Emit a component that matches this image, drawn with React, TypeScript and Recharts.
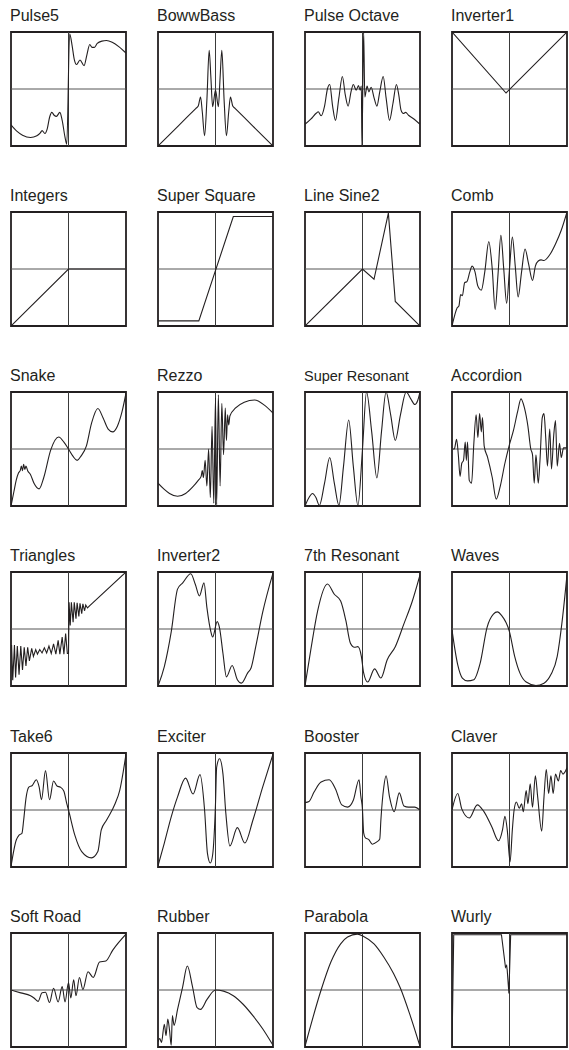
import { LineChart, Line, XAxis, YAxis, ReferenceLine, ReferenceArea } from "recharts";

type Pt = [number, number];

// transfer curves, x and y both in -1..1
const pulse5: Pt[] = [
  [-1, -0.63], [-0.9, -0.74], [-0.8, -0.81], [-0.66, -0.85], [-0.55, -0.82], [-0.49, -0.77],
  [-0.46, -0.73], [-0.41, -0.78], [-0.37, -0.7], [-0.33, -0.5], [-0.29, -0.41], [-0.25, -0.46],
  [-0.21, -0.48], [-0.15, -0.41], [-0.11, -0.55], [-0.06, -0.85], [-0.03, -0.97], [0.02, 0.97],
  [0.06, 0.78], [0.1, 0.52], [0.14, 0.43], [0.2, 0.51], [0.27, 0.41], [0.32, 0.6], [0.37, 0.78],
  [0.41, 0.73], [0.45, 0.73], [0.5, 0.8], [0.58, 0.84], [0.66, 0.85], [0.76, 0.82], [0.88, 0.74], [1, 0.63],
];
const bowwBass: Pt[] = [
  [-1, -1], [-0.65, -0.65], [-0.34, -0.34], [-0.3, -0.3], [-0.26, -0.14], [-0.23, -0.4], [-0.19, -0.82],
  [-0.15, -0.2], [-0.11, 0.68], [-0.08, 0.2], [-0.05, -0.31], [0, -0.02], [0.05, -0.31], [0.08, 0.2],
  [0.11, 0.68], [0.15, -0.2], [0.19, -0.82], [0.23, -0.4], [0.26, -0.14], [0.3, -0.3], [0.34, -0.34],
  [0.65, -0.65], [1, -1],
];
const pulseOctave: Pt[] = [
  [-1, -0.62], [-0.9, -0.53], [-0.8, -0.42], [-0.77, -0.4], [-0.72, -0.47], [-0.66, -0.3], [-0.61, 0],
  [-0.57, 0.08], [-0.52, -0.3], [-0.47, -0.55], [-0.41, -0.15], [-0.35, 0.22], [-0.3, -0.1], [-0.25, -0.3],
  [-0.2, -0.05], [-0.16, 0.08], [-0.11, -0.02], [-0.07, 0.06], [-0.04, -0.02], [-0.02, 0.05], [-0.01, -1],
  [0.02, 1], [0.04, -0.14], [0.08, 0.05], [0.11, -0.05], [0.15, 0.03], [0.2, -0.15], [0.25, -0.3],
  [0.3, -0.05], [0.36, 0.22], [0.41, -0.15], [0.47, -0.55], [0.53, -0.25], [0.59, 0.08], [0.63, -0.1],
  [0.67, -0.37], [0.71, -0.43], [0.75, -0.41], [0.8, -0.46], [0.9, -0.53], [1, -0.62],
];
const inverter1: Pt[] = [[-1, 1], [-0.06, -0.07], [-0.02, -0.03], [1, 1]];

const integers: Pt[] = [[-1, -1], [0, 0], [1, 0]];
const superSquare: Pt[] = [[-1, -0.91], [-0.29, -0.91], [0.31, 0.92], [1, 0.92]];
const lineSine2: Pt[] = [[-1, -1], [0, 0], [0.2, -0.18], [0.45, 0.98], [0.57, -0.57], [1, -1]];
const comb: Pt[] = [
  [-1, -1], [-0.95, -0.8], [-0.91, -0.68], [-0.88, -0.65], [-0.85, -0.45], [-0.82, -0.47], [-0.78, -0.24],
  [-0.74, -0.22], [-0.69, -0.05], [-0.65, 0.05], [-0.6, -0.05], [-0.55, -0.3], [-0.49, -0.37], [-0.43, -0.05],
  [-0.36, 0.48], [-0.3, 0], [-0.25, -0.71], [-0.2, -0.1], [-0.15, 0.59], [-0.1, 0], [-0.05, -0.6], [0, 0],
  [0.05, 0.56], [0.1, 0.05], [0.15, -0.49], [0.21, -0.05], [0.27, 0.35], [0.33, 0.1], [0.4, -0.2],
  [0.45, 0.05], [0.5, 0.14], [0.55, 0.16], [0.6, 0.15], [0.7, 0.25], [0.8, 0.44], [0.9, 0.68], [1, 1],
];

const snake: Pt[] = [
  [-1, -1], [-0.95, -0.75], [-0.91, -0.55], [-0.87, -0.42], [-0.84, -0.38], [-0.82, -0.3], [-0.8, -0.38],
  [-0.78, -0.27], [-0.76, -0.36], [-0.74, -0.3], [-0.71, -0.38], [-0.66, -0.45], [-0.6, -0.6], [-0.51, -0.7],
  [-0.43, -0.5], [-0.31, -0.02], [-0.17, 0.21], [-0.08, 0.12], [0, 0], [0.08, -0.13], [0.15, -0.2],
  [0.22, -0.12], [0.31, 0.05], [0.4, 0.45], [0.51, 0.71], [0.6, 0.55], [0.69, 0.35], [0.77, 0.3],
  [0.85, 0.4], [0.93, 0.65], [1, 0.98],
];
const rezzo: Pt[] = [
  [-1, -0.6], [-0.9, -0.7], [-0.8, -0.78], [-0.66, -0.83], [-0.52, -0.78], [-0.4, -0.67], [-0.3, -0.55],
  [-0.25, -0.48], [-0.23, -0.38], [-0.21, -0.5], [-0.18, -0.2], [-0.15, -0.65], [-0.12, 0], [-0.09, -0.85],
  [-0.06, 0.4], [-0.03, -0.95], [0, 0.9], [0.02, -0.98], [0.05, 0.95], [0.08, -0.65], [0.11, 0.8],
  [0.14, -0.1], [0.17, 0.72], [0.19, 0.15], [0.21, 0.6], [0.23, 0.42], [0.25, 0.58], [0.35, 0.72],
  [0.5, 0.82], [0.68, 0.86], [0.85, 0.77], [1, 0.63],
];
const superResonant: Pt[] = [
  [-1, -1], [-0.93, -0.85], [-0.87, -0.78], [-0.81, -0.85], [-0.75, -0.99], [-0.66, -0.6], [-0.57, -0.15],
  [-0.49, -0.6], [-0.41, -0.99], [-0.33, -0.3], [-0.24, 0.51], [-0.16, -0.3], [-0.08, -0.99], [0, 0],
  [0.07, 1], [0.16, 0.3], [0.25, -0.51], [0.33, 0.3], [0.41, 1], [0.49, 0.6], [0.57, 0.15], [0.66, 0.6],
  [0.76, 1], [0.84, 0.88], [0.91, 0.78], [0.96, 0.85], [1, 1],
];
const accordion: Pt[] = [
  [-1, 0], [-0.96, 0], [-0.92, 0.17], [-0.89, -0.1], [-0.86, -0.48], [-0.83, -0.25], [-0.8, -0.2],
  [-0.77, 0.12], [-0.75, -0.2], [-0.73, 0.12], [-0.7, -0.55], [-0.66, -0.6], [-0.62, 0.1], [-0.58, 0.6],
  [-0.55, 0.2], [-0.52, 0.62], [-0.49, 0.3], [-0.47, 0.55], [-0.44, 0.05], [-0.38, -0.15], [-0.3, -0.5],
  [-0.23, -0.88], [-0.16, -0.65], [-0.08, -0.25], [0, 0.08], [0.07, 0.33], [0.14, 0.65], [0.2, 0.88],
  [0.26, 0.72], [0.32, 0.4], [0.37, 0], [0.4, -0.1], [0.43, -0.6], [0.46, -0.1], [0.5, -0.6], [0.53, -0.2],
  [0.57, 0.55], [0.6, 0.62], [0.63, 0.2], [0.66, -0.3], [0.7, 0.35], [0.73, -0.35], [0.77, 0.25],
  [0.8, 0.5], [0.83, -0.3], [0.87, 0.1], [0.9, -0.15], [0.94, 0.02], [1, 0.02],
];

const triangles: Pt[] = [
  [-0.99, -0.28], [-0.97, -0.9], [-0.94, -0.28], [-0.92, -0.85], [-0.89, -0.3], [-0.86, -0.8], [-0.83, -0.3],
  [-0.8, -0.72], [-0.77, -0.32], [-0.74, -0.65], [-0.71, -0.32], [-0.68, -0.56], [-0.64, -0.34],
  [-0.61, -0.48], [-0.57, -0.36], [-0.54, -0.44], [-0.5, -0.36], [-0.46, -0.42], [-0.42, -0.33],
  [-0.38, -0.42], [-0.34, -0.3], [-0.3, -0.43], [-0.26, -0.26], [-0.22, -0.44], [-0.18, -0.2],
  [-0.15, -0.44], [-0.11, -0.14], [-0.08, -0.44], [-0.05, -0.08], [-0.02, -0.43], [0, -0.43], [0.01, 0.47],
  [0.03, 0.06], [0.05, 0.47], [0.08, 0.12], [0.1, 0.47], [0.13, 0.18], [0.15, 0.46], [0.18, 0.22],
  [0.2, 0.45], [0.23, 0.27], [0.25, 0.44], [0.28, 0.32], [0.3, 0.42], [0.33, 0.37], [0.37, 0.41], [1, 1],
];
const inverter2: Pt[] = [
  [-1, -1], [-0.89, -0.66], [-0.77, -0.05], [-0.66, 0.7], [-0.57, 0.81], [-0.43, 0.97], [-0.35, 0.78],
  [-0.28, 0.58], [-0.2, 0.81], [-0.15, 0.38], [-0.08, -0.05], [-0.05, -0.14], [0.03, 0.13], [0.07, 0.02],
  [0.13, -0.43], [0.19, -0.84], [0.29, -0.64], [0.38, -0.89], [0.45, -0.95], [0.56, -0.77], [0.62, -0.68],
  [0.7, -0.31], [0.82, 0.29], [1, 0.98],
];
const seventhResonant: Pt[] = [
  [-1, -1], [-0.9, -0.37], [-0.78, 0.32], [-0.61, 0.79], [-0.49, 0.61], [-0.38, 0.49], [-0.29, 0.15],
  [-0.21, -0.25], [-0.14, -0.32], [-0.08, -0.31], [-0.02, -0.48], [0.02, -0.77], [0.09, -0.93],
  [0.21, -0.7], [0.32, -0.86], [0.43, -0.54], [0.57, -0.31], [0.72, 0.09], [0.86, 0.47], [1, 0.95],
];
const waves: Pt[] = [
  [-1, -0.02], [-0.9, -0.63], [-0.82, -0.86], [-0.73, -0.91], [-0.62, -0.89], [-0.51, -0.6], [-0.39, 0.03],
  [-0.28, 0.26], [-0.21, 0.3], [-0.14, 0.24], [0, -0.05], [0.09, -0.48], [0.18, -0.77], [0.29, -0.93],
  [0.46, -0.99], [0.6, -0.95], [0.72, -0.8], [0.83, -0.48], [0.91, 0.09], [1, 0.95],
];

const take6: Pt[] = [
  [-1, -0.99], [-0.91, -0.53], [-0.86, -0.44], [-0.81, -0.41], [-0.78, -0.18], [-0.74, 0.2], [-0.69, 0.4],
  [-0.63, 0.43], [-0.56, 0.53], [-0.51, 0.4], [-0.47, 0.18], [-0.4, 0.69], [-0.33, 0.18], [-0.26, 0.51],
  [-0.2, 0.42], [-0.14, 0.4], [-0.08, 0.33], [-0.03, 0.11], [0, 0], [0.11, -0.44], [0.23, -0.73],
  [0.4, -0.84], [0.51, -0.73], [0.57, -0.35], [0.66, -0.18], [0.81, 0.11], [0.89, 0.34], [1, 0.98],
];
const exciter: Pt[] = [
  [-1, -0.98], [-0.89, -0.58], [-0.77, -0.12], [-0.66, 0.23], [-0.52, 0.56], [-0.39, 0.28], [-0.27, 0.62],
  [-0.19, 0], [-0.14, -0.76], [-0.09, -0.93], [-0.05, -0.79], [0, 0.11], [0.02, 0.75], [0.07, 0.9],
  [0.13, 0.63], [0.18, -0.06], [0.25, -0.63], [0.38, -0.31], [0.51, -0.58], [0.65, -0.18], [0.82, 0.4],
  [1, 0.98],
];
const booster: Pt[] = [
  [-1, 0.13], [-0.93, 0.15], [-0.84, 0.32], [-0.72, 0.49], [-0.58, 0.53], [-0.47, 0.37], [-0.36, 0.09],
  [-0.26, 0.05], [-0.16, 0.17], [-0.06, 0.53], [-0.03, 0.25], [0, 0], [0.02, -0.4], [0.05, -0.49],
  [0.11, -0.52], [0.17, -0.6], [0.25, -0.56], [0.3, -0.51], [0.32, -0.17], [0.37, 0.4], [0.41, 0.6],
  [0.47, 0.23], [0.55, -0.03], [0.64, 0.3], [0.72, 0.07], [0.8, 0.05], [0.91, 0.05], [1, 0],
];
const claver: Pt[] = [
  [-1, 0], [-0.9, 0.29], [-0.83, 0.02], [-0.7, -0.14], [-0.56, 0.09], [-0.45, -0.02], [-0.31, -0.29],
  [-0.19, -0.54], [-0.12, -0.34], [-0.08, -0.11], [-0.04, -0.34], [0.01, -0.91], [0.05, -0.34],
  [0.08, 0], [0.12, 0.14], [0.17, 0.03], [0.21, 0.11], [0.24, -0.03], [0.29, 0.34], [0.32, 0.11],
  [0.36, 0.46], [0.4, 0.05], [0.45, 0.6], [0.49, 0.23], [0.56, -0.37], [0.6, 0.23], [0.64, 0.71],
  [0.68, 0.29], [0.72, 0.6], [0.76, 0.29], [0.8, 0.63], [0.85, 0.51], [0.89, 0.69], [0.93, 0.63], [1, 0.74],
];

const softRoad: Pt[] = [
  [-1, 0], [-0.83, -0.05], [-0.66, -0.1], [-0.6, -0.14], [-0.53, -0.2], [-0.46, -0.05], [-0.4, -0.04],
  [-0.33, -0.22], [-0.26, 0.03], [-0.18, -0.21], [-0.11, 0.06], [-0.06, -0.21], [0, 0.13], [0.04, -0.14],
  [0.09, 0.18], [0.13, -0.1], [0.19, 0.22], [0.25, 0.01], [0.34, 0.32], [0.43, 0.22], [0.54, 0.49],
  [0.65, 0.51], [0.77, 0.7], [1, 0.98],
];
const rubber: Pt[] = [
  [-1, -0.91], [-0.97, -0.85], [-0.94, -0.92], [-0.89, -0.6], [-0.86, -0.8], [-0.83, -0.51], [-0.8, -0.7],
  [-0.77, -0.97], [-0.75, -0.45], [-0.72, -0.62], [-0.66, -0.34], [-0.57, 0.06], [-0.49, 0.42],
  [-0.4, 0.06], [-0.32, -0.31], [-0.26, -0.34], [-0.15, -0.17], [0, 0], [0.14, -0.02], [0.31, -0.1],
  [0.48, -0.25], [0.65, -0.45], [0.82, -0.68], [1, -0.97],
];
const parabola: Pt[] = [
  [-1, -0.99], [-0.72, 0], [-0.55, 0.49], [-0.38, 0.81], [-0.26, 0.93], [-0.09, 0.98], [0.02, 0.94],
  [0.2, 0.81], [0.37, 0.58], [0.54, 0.29], [0.66, 0.03], [0.83, -0.45], [1, -0.99],
];
const wurly: Pt[] = [
  [-1, -1], [-0.97, 0.97], [-0.14, 0.97], [-0.07, 0.4], [-0.05, 0.43], [-0.04, 0.35], [-0.01, -0.06],
  [0.02, 0.97], [1, 0.97],
];

const names = [
  "Pulse5", "BowwBass", "Pulse Octave", "Inverter1",
  "Integers", "Super Square", "Line Sine2", "Comb",
  "Snake", "Rezzo", "Super Resonant", "Accordion",
  "Triangles", "Inverter2", "7th Resonant", "Waves",
  "Take6", "Exciter", "Booster", "Claver",
  "Soft Road", "Rubber", "Parabola", "Wurly",
];
const curves = [
  pulse5, bowwBass, pulseOctave, inverter1,
  integers, superSquare, lineSine2, comb,
  snake, rezzo, superResonant, accordion,
  triangles, inverter2, seventhResonant, waves,
  take6, exciter, booster, claver,
  softRoad, rubber, parabola, wurly,
];
// drawn with straight segments
const angular = ["Inverter1", "Integers", "Super Square", "Line Sine2", "Triangles", "Wurly"];

const colLeft = [10, 157, 304, 451];
const rowTop = [31, 211, 391, 571, 752, 932];
const INK = "#231f20";

function Panel({ name, pts }: { name: string; pts: Pt[] }) {
  const data = pts.map(([x, y]) => ({ x, y }));
  return (
    <LineChart width={117} height={116} data={data} margin={{ top: 1, right: 1, bottom: 1, left: 1 }}>
      <XAxis type="number" dataKey="x" domain={[-1, 1]} allowDataOverflow hide />
      <YAxis type="number" domain={[-1, 1]} allowDataOverflow hide />
      <ReferenceLine x={0} stroke="#3a3a3a" strokeWidth={1} />
      <ReferenceLine y={0} stroke="#555" strokeWidth={1} />
      <Line
        dataKey="y"
        type={angular.includes(name) ? "linear" : "monotoneX"}
        stroke={INK}
        strokeWidth={1.1}
        dot={false}
        isAnimationActive={false}
      />
      <ReferenceArea x1={-1} x2={1} y1={-1} y2={1} fill="none" stroke={INK} strokeWidth={1.8} />
    </LineChart>
  );
}

export default function App() {
  return (
    <div style={{ position: "absolute", left: 0, top: 0, width: 569, height: 1050, background: "#fff" }}>
      {names.map((name, i) => {
        const left = colLeft[i % 4];
        const top = rowTop[Math.floor(i / 4)];
        return (
          <div key={name}>
            <div
              style={{
                position: "absolute",
                left,
                top: top - 25,
                lineHeight: "20px",
                fontSize: name === "Super Resonant" ? 14.5 : 16,
                fontFamily: "'Liberation Sans', Arial, sans-serif",
                color: INK,
                whiteSpace: "nowrap",
              }}
            >
              {name}
            </div>
            <div style={{ position: "absolute", left, top }}>
              <Panel name={name} pts={curves[i]} />
            </div>
          </div>
        );
      })}
    </div>
  );
}
